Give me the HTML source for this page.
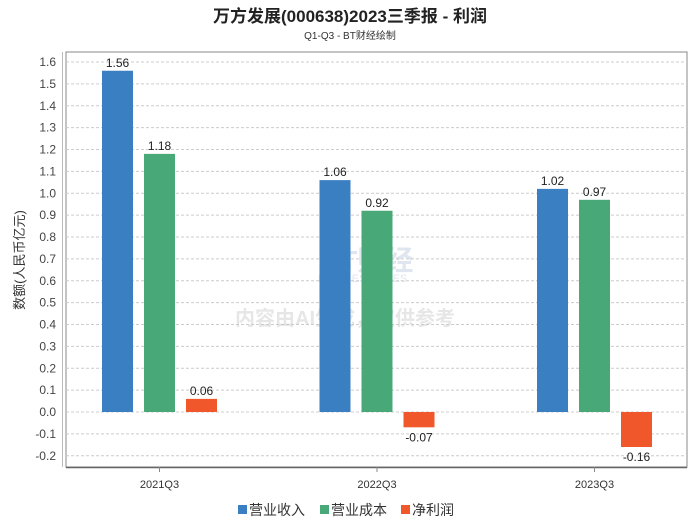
<!DOCTYPE html>
<html><head><meta charset="utf-8"><style>
body{margin:0;background:#fff;font-family:"Liberation Sans","Noto Sans CJK SC",sans-serif}
svg text{font-family:"Liberation Sans","Noto Sans CJK SC",sans-serif}
</style></head><body>
<svg id="c" width="700" height="524" xmlns="http://www.w3.org/2000/svg">
<text x="350" y="22" text-anchor="middle" font-size="17" font-weight="bold" fill="#222">万方发展(000638)2023三季报 - 利润</text>
<text x="350" y="39" text-anchor="middle" font-size="10" fill="#333">Q1-Q3 - BT财经绘制</text>
<rect x="66" y="52" width="621" height="415" fill="none" stroke="#888"/>
<line x1="62.5" y1="52" x2="62.5" y2="467" stroke="#bbb"/>
<line x1="66" y1="467.5" x2="687" y2="467.5" stroke="#666" stroke-width="1.5"/>
<text transform="translate(24,260) rotate(-90)" text-anchor="middle" font-size="13" fill="#333">数额(人民币亿元)</text>
<g opacity="0.18">
<text x="320" y="270" font-size="28" font-weight="bold" fill="#5577aa">BT财经</text>
<text x="318" y="282" font-size="11" fill="#5577aa">BUSINESSTIMES</text>
<text x="345" y="325" text-anchor="middle" font-size="20" font-weight="bold" fill="#777">内容由AI生成，仅供参考</text>
</g>
<g id="grid"></g><g id="bars"></g>
<g>
<rect x="238" y="505" width="9" height="9" fill="#3a7fc1"/>
<text x="249" y="515" font-size="14" fill="#333">营业收入</text>
<rect x="320" y="505" width="9" height="9" fill="#48a878"/>
<text x="331" y="515" font-size="14" fill="#333">营业成本</text>
<rect x="401" y="505" width="9" height="9" fill="#f0572a"/>
<text x="412" y="515" font-size="14" fill="#333">净利润</text>
</g>
</svg>
<script>
const categories=["2021Q3","2022Q3","2023Q3"];
const revenue=[1.56,1.06,1.02];
const cost=[1.18,0.92,0.97];
const profit=[0.06,-0.07,-0.16];
const yTicks=[-0.2,-0.1,0,0.1,0.2,0.3,0.4,0.5,0.6,0.7,0.8,0.9,1.0,1.1,1.2,1.3,1.4,1.5,1.6];
const NS="http://www.w3.org/2000/svg";
function y(v){return 412-v*218.75;}
function xc(i){return 159.5+i*217.5;}
function mk(t,a,p){const e=document.createElementNS(NS,t);for(const k in a)e.setAttribute(k,a[k]);p.appendChild(e);return e;}
const g=document.getElementById('grid'),b=document.getElementById('bars');
yTicks.forEach(v=>{
 const l=mk('line',{x1:66,x2:687,y1:y(v),y2:y(v),stroke:'#ccc','stroke-dasharray':'3,2'},g);
 
 
 const t=mk('text',{x:56,y:y(v)+4,'text-anchor':'end','font-size':12,fill:'#444'},g);
 t.textContent=v.toFixed(1);
 
 
});
categories.forEach((c,i)=>{
 const tk=mk('line',{x1:xc(i),x2:xc(i),y1:467,y2:472,stroke:'#888'},g);
 
 
 const t=mk('text',{x:xc(i),y:488,'text-anchor':'middle','font-size':11,fill:'#333'},g);
 t.textContent=c;
 
 
});
const series=[[revenue,'#3a7fc1',-42,'revenue'],[cost,'#48a878',0,'cost'],[profit,'#f0572a',42,'profit']];
series.forEach(([arr,col,off,nm])=>{
 arr.forEach((v,i)=>{
  const x=xc(i)+off-15.5,y0=y(0),y1=y(v);
  const r=mk('rect',{x:x,y:Math.min(y0,y1),width:31,height:Math.abs(y1-y0),fill:col},b);
  
  
  const t=mk('text',{x:x+15.5,y:v>=0?y1-4:y1+14,'text-anchor':'middle','font-size':12,fill:'#222'},b);
  t.textContent=v.toFixed(2);
  
  
 });
});
</script>
</body></html>
